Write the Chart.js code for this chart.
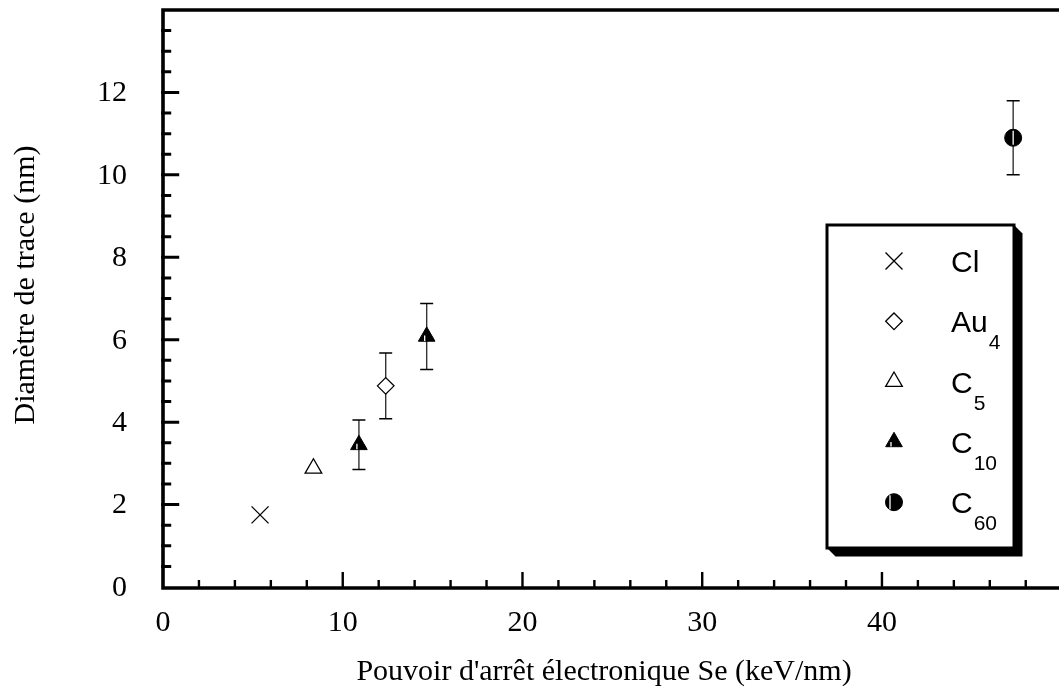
<!DOCTYPE html>
<html>
<head>
<meta charset="utf-8">
<script src="https://cdn.jsdelivr.net/npm/chart.js@4"></script>
<style>
  html, body { margin: 0; padding: 0; background: #fff; }
  canvas { display: block; }
</style>
</head>
<body>
<canvas id="traceChart" width="1059" height="689"></canvas>
<script>
// values (Se in keV/nm, diameter in nm)
const clSe = [5.4];
const clDiam = [1.75];

const au4Se = [12.39];
const au4Diam = [4.88];
const au4Err = [0.8];

const c5Se = [8.37];
const c5Diam = [2.88];

const c10Se = [10.9, 14.67];
const c10Diam = [3.45, 6.08];
const c10Err = [0.6, 0.8];

const c60Se = [47.3];
const c60Diam = [10.9];
const c60Err = [0.9];

const seriesNames = ['Cl', 'Au', 'C', 'C', 'C'];
const seriesSubs = ['', '4', '5', '10', '60'];

const xTickLabels = [0, 10, 20, 30, 40];
const yTickLabels = [0, 2, 4, 6, 8, 10, 12];
const xMinorStep = 2;
const yMinorStep = 0.5;
const xMin = 0, xMax = 49.85;
const yMin = 0, yMax = 14;

const serif = '"Liberation Serif", "Times New Roman", serif';
const sans = '"Liberation Sans", Arial, sans-serif';

function toPoints(xs, ys) {
  return xs.map((v, i) => ({ x: v, y: ys[i] }));
}

const datasets = [
  { label: 'Cl', data: toPoints(clSe, clDiam), pointStyle: 'crossRot', pointRadius: 12,
    borderColor: '#000', backgroundColor: '#000', borderWidth: 1.3 },
  { label: 'Au4', data: toPoints(au4Se, au4Diam), err: au4Err, pointStyle: 'rectRot', pointRadius: 8.3,
    borderColor: '#000', backgroundColor: '#fff', borderWidth: 1.3 },
  { label: 'C5', data: toPoints(c5Se, c5Diam), pointStyle: 'triangle', pointRadius: 9.6,
    borderColor: '#000', backgroundColor: '#fff', borderWidth: 1.3 },
  { label: 'C10', data: toPoints(c10Se, c10Diam), err: c10Err, slit: -2, pointStyle: 'triangle', pointRadius: 9.6,
    borderColor: '#000', backgroundColor: '#000', borderWidth: 1 },
  { label: 'C60', data: toPoints(c60Se, c60Diam), err: c60Err, slit: 0, pointStyle: 'circle', pointRadius: 8.5,
    borderColor: '#000', backgroundColor: '#000', borderWidth: 1 }
];
datasets.forEach(d => { d.pointHoverRadius = d.pointRadius; d.showLine = false; });

const framePlugin = {
  id: 'framePlugin',
  beforeDatasetsDraw(chart) {
    const { ctx, scales: { x, y } } = chart;
    ctx.save();
    chart.data.datasets.forEach(ds => {
      if (!ds.err) return;
      ds.data.forEach((p, i) => {
        const px = x.getPixelForValue(p.x);
        const top = y.getPixelForValue(p.y + ds.err[i]);
        const bot = y.getPixelForValue(p.y - ds.err[i]);
        ctx.strokeStyle = '#333';
        ctx.lineWidth = 1.4;
        ctx.beginPath();
        ctx.moveTo(px, top); ctx.lineTo(px, bot);
        ctx.stroke();
        ctx.strokeStyle = '#000';
        ctx.lineWidth = 1.5;
        ctx.beginPath();
        ctx.moveTo(px - 6.5, top); ctx.lineTo(px + 6.5, top);
        ctx.moveTo(px - 6.5, bot); ctx.lineTo(px + 6.5, bot);
        ctx.stroke();
      });
    });
    ctx.restore();
  },
  afterDatasetsDraw(chart) {
    // white slit in the filled symbols, as in the original
    const { ctx, scales: { x, y } } = chart;
    ctx.save();
    ctx.strokeStyle = '#fff';
    ctx.lineWidth = 1.3;
    chart.data.datasets.forEach(ds => {
      if (ds.slit === undefined) return;
      ds.data.forEach(p => {
        const px = x.getPixelForValue(p.x) + ds.slit;
        const py = y.getPixelForValue(p.y);
        ctx.beginPath();
        if (ds.pointStyle === 'circle') {
          ctx.moveTo(px, py - 7); ctx.lineTo(px, py + 7);
        } else {
          ctx.moveTo(px, py - 1); ctx.lineTo(px, py + 4.5);
        }
        ctx.stroke();
      });
    });
    ctx.restore();
  },
  afterDraw(chart) {
    const { ctx, chartArea: a, scales: { x, y } } = chart;
    ctx.save();
    ctx.fillStyle = '#000';
    ctx.strokeStyle = '#000';

    // axis lines
    ctx.lineWidth = 3.6;
    ctx.beginPath();
    ctx.moveTo(a.left, a.top); ctx.lineTo(a.left, a.bottom + 2.8);
    ctx.moveTo(a.left - 1.8, a.bottom + 1); ctx.lineTo(a.right + 5, a.bottom + 1);
    ctx.moveTo(a.left - 1.8, a.top); ctx.lineTo(a.right + 5, a.top);
    ctx.stroke();

    // x ticks (inside)
    ctx.lineWidth = 2.4;
    ctx.beginPath();
    for (let v = xMin + xMinorStep; v <= xMax; v += xMinorStep) {
      const px = x.getPixelForValue(v);
      const len = (v % 10 === 0) ? 17 : 9;
      ctx.moveTo(px, a.bottom + 2); ctx.lineTo(px, a.bottom + 2 - len);
    }
    ctx.stroke();

    // y ticks (inside)
    ctx.lineWidth = 3;
    ctx.beginPath();
    for (let v = yMin + yMinorStep; v < yMax; v += yMinorStep) {
      const py = y.getPixelForValue(v);
      const len = (v % 2 === 0) ? 18 : 10;
      ctx.moveTo(a.left - 1.8, py); ctx.lineTo(a.left - 1.8 + len, py);
    }
    ctx.stroke();

    // tick labels
    ctx.font = '30px ' + serif;
    ctx.textAlign = 'center';
    ctx.textBaseline = 'alphabetic';
    xTickLabels.forEach(v => ctx.fillText(String(v), x.getPixelForValue(v), 631));
    ctx.textAlign = 'right';
    ctx.textBaseline = 'middle';
    yTickLabels.forEach(v => ctx.fillText(String(v), 127, y.getPixelForValue(v) + 1));

    // axis titles
    ctx.textAlign = 'center';
    ctx.textBaseline = 'alphabetic';
    ctx.fillText("Pouvoir d'arrêt électronique Se (keV/nm)", 604, 680);
    ctx.save();
    ctx.translate(34, 285);
    ctx.rotate(-Math.PI / 2);
    ctx.fillText('Diamètre de trace (nm)', 0, 0);
    ctx.restore();

    // legend box with shadow
    const bl = 827, bt = 225, br = 1014, bb = 548, sh = 8.5;
    ctx.beginPath();
    ctx.moveTo(br, bt); ctx.lineTo(br + sh, bt + sh);
    ctx.lineTo(br + sh, bb + sh); ctx.lineTo(bl + sh, bb + sh);
    ctx.lineTo(bl, bb); ctx.closePath();
    ctx.fill();
    ctx.fillStyle = '#fff';
    ctx.fillRect(bl, bt, br - bl, bb - bt);
    ctx.lineWidth = 3;
    ctx.strokeRect(bl, bt, br - bl, bb - bt);

    chart.data.datasets.forEach((ds, i) => {
      const cy = 261 + i * 60.3;
      const cx = 894;
      ctx.fillStyle = ds.backgroundColor;
      ctx.strokeStyle = ds.borderColor;
      ctx.lineWidth = ds.borderWidth;
      Chart.helpers.drawPoint(ctx, {
        pointStyle: ds.pointStyle, radius: ds.pointRadius, rotation: 0, borderWidth: ds.borderWidth
      }, cx, cy);
      if (ds.slit !== undefined) {
        ctx.strokeStyle = '#fff';
        ctx.lineWidth = 1.3;
        ctx.beginPath();
        if (ds.pointStyle === 'circle') {
          ctx.moveTo(cx - 4, cy - 7); ctx.lineTo(cx - 4, cy + 7);
        } else {
          ctx.moveTo(cx - 3, cy); ctx.lineTo(cx - 3, cy + 4.5);
        }
        ctx.stroke();
      }
      ctx.fillStyle = '#000';
      ctx.textAlign = 'left';
      ctx.textBaseline = 'alphabetic';
      ctx.font = '30px ' + sans;
      ctx.fillText(seriesNames[i], 951, cy + 11);
      if (seriesSubs[i]) {
        const w = ctx.measureText(seriesNames[i]).width;
        ctx.font = '21px ' + sans;
        ctx.fillText(seriesSubs[i], 951 + w + 1, cy + 28);
      }
    });

    ctx.restore();
  }
};

new Chart(document.getElementById('traceChart'), {
  type: 'scatter',
  data: { datasets: datasets },
  options: {
    responsive: false,
    animation: false,
    layout: { autoPadding: false, padding: { left: 163, top: 10, right: 0, bottom: 102 } },
    plugins: { legend: { display: false }, tooltip: { enabled: false } },
    scales: {
      x: { type: 'linear', min: xMin, max: xMax, display: false },
      y: { type: 'linear', min: yMin, max: yMax, display: false }
    }
  },
  plugins: [framePlugin]
});
</script>
</body>
</html>
